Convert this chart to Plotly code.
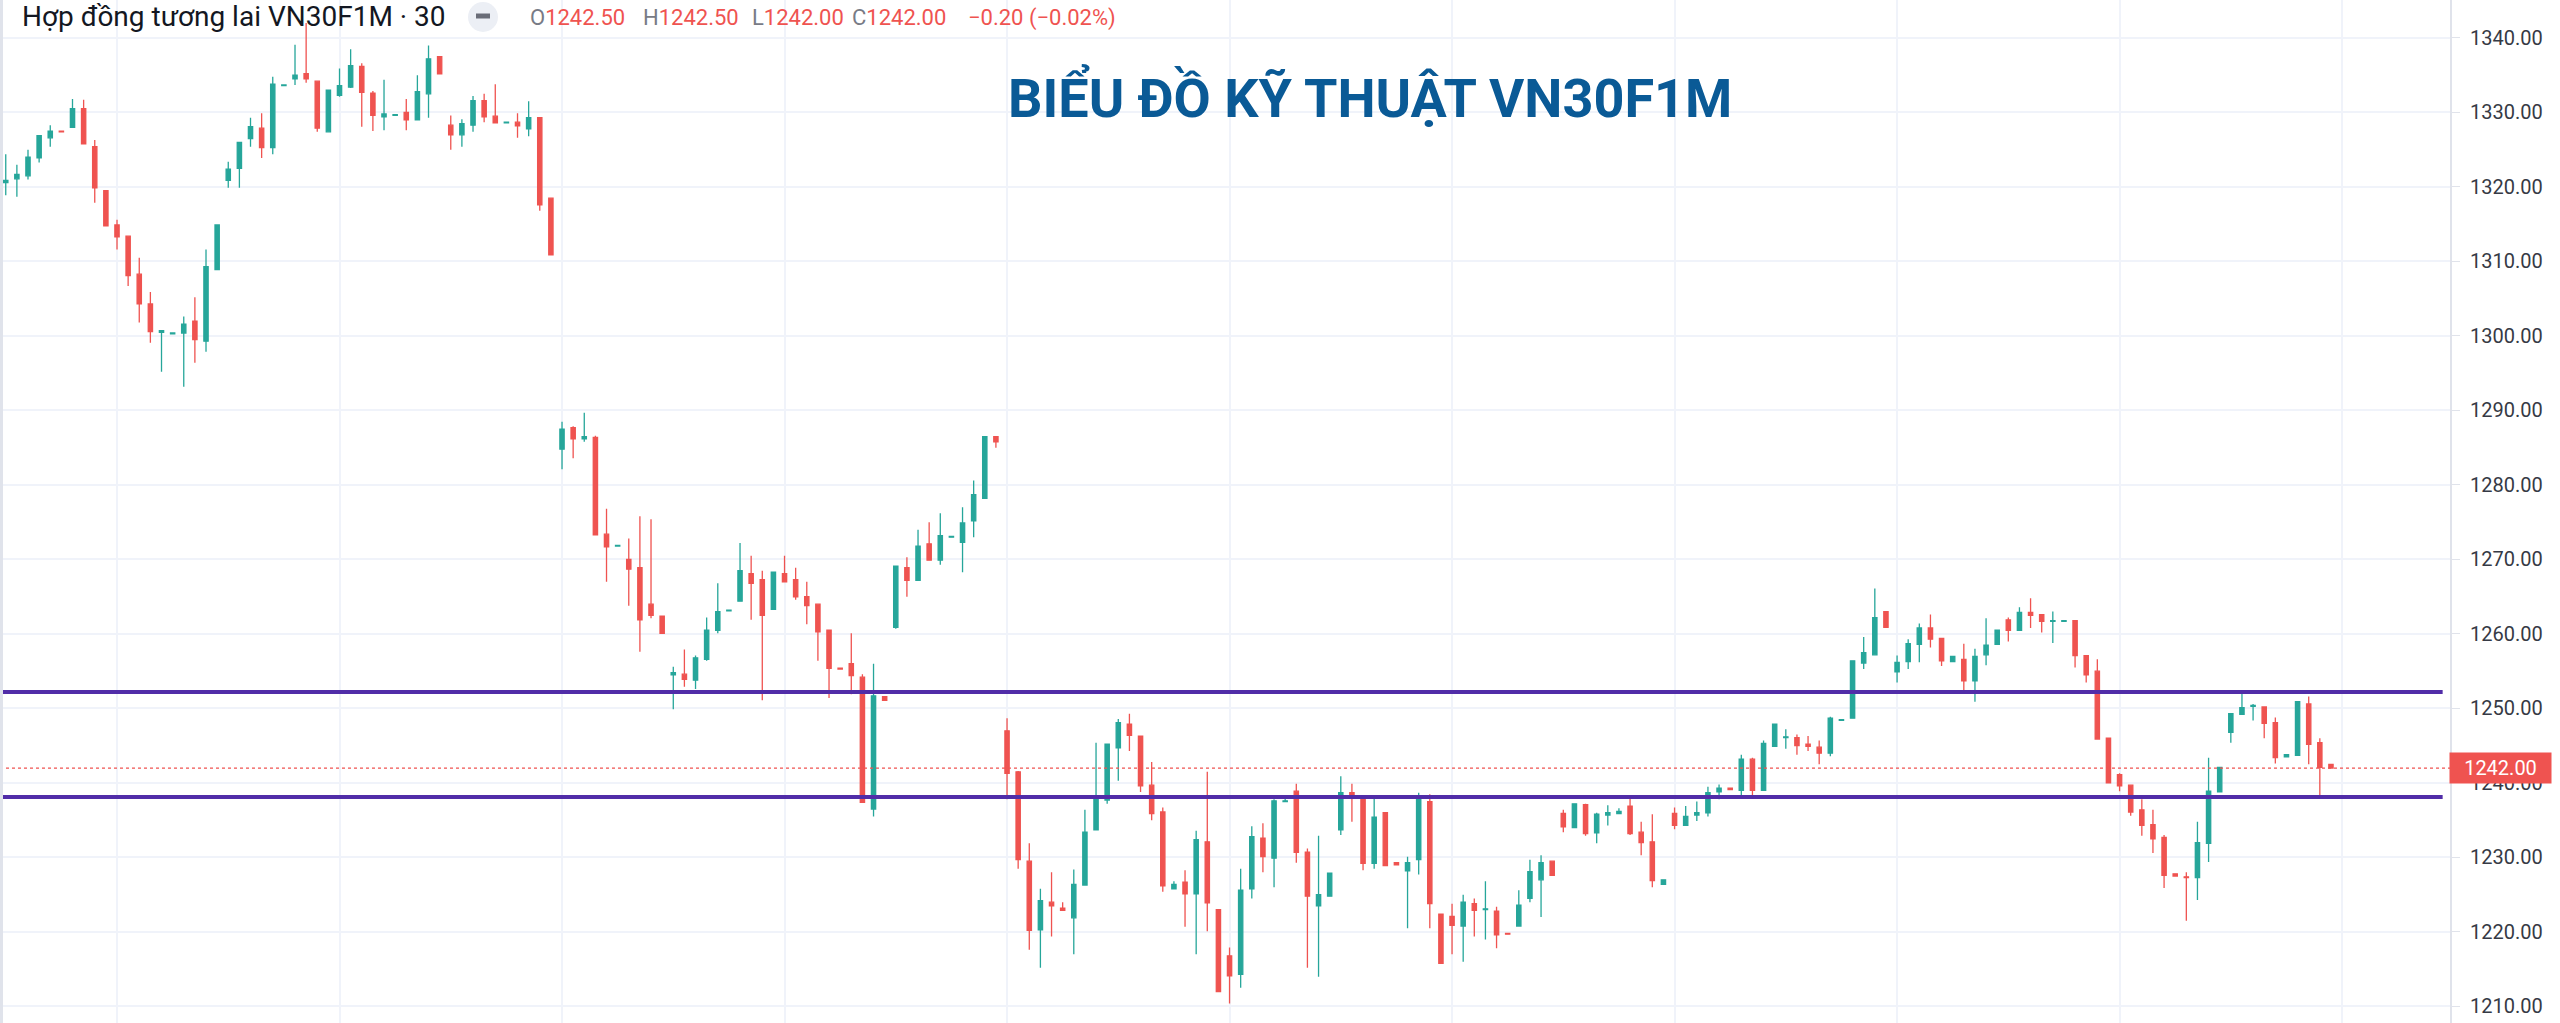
import plotly.graph_objects as go

# ---------------- data ----------------
bar_index = list(range(210))

open_ = [
    1320.6, 1321.1, 1321.5, 1323.9, 1326.6, 1327.5, 1328.0, 1330.5, 1325.4, 1319.5,
    1314.9, 1313.4, 1308.3, 1304.3, 1300.5, 1300.3, 1300.4, 1302.0, 1299.3, 1308.9,
    1320.9, 1322.5, 1326.5, 1327.9, 1325.3, 1333.6, 1334.5, 1335.2, 1334.2, 1327.4,
    1332.3, 1333.4, 1336.2, 1332.6, 1329.4, 1329.6, 1330.0, 1329.0, 1332.5, 1337.5,
    1328.3, 1327.0, 1328.3, 1331.6, 1329.5, 1328.6, 1328.7, 1327.8, 1329.3, 1318.5,
    1284.8, 1287.7, 1286.2, 1286.4, 1273.4, 1271.8, 1270.0, 1268.9, 1264.0, 1262.4,
    1254.5, 1254.6, 1253.8, 1256.6, 1260.5, 1263.1, 1264.4, 1268.1, 1267.3, 1263.3,
    1268.1, 1267.3, 1265.0, 1264.0, 1260.5, 1255.4, 1256.0, 1254.2, 1236.5, 1251.6,
    1260.9, 1268.9, 1267.2, 1272.1, 1269.9, 1273.0, 1272.3, 1275.2, 1278.2, 1286.5,
    1247.0, 1241.5, 1229.5, 1220.3, 1224.0, 1223.2, 1221.9, 1226.3, 1233.7, 1237.7,
    1244.7, 1247.9, 1246.3, 1239.7, 1236.1, 1225.8, 1226.7, 1225.1, 1232.1, 1223.0,
    1216.8, 1214.3, 1225.8, 1232.6, 1229.9, 1237.5, 1238.9, 1230.7, 1223.5, 1224.8,
    1233.7, 1238.7, 1238.0, 1229.2, 1236.0, 1229.3, 1228.2, 1229.7, 1237.5, 1222.4,
    1222.1, 1220.8, 1223.8, 1223.0, 1222.8, 1219.8, 1220.8, 1224.5, 1227.0, 1229.5,
    1235.9, 1234.0, 1237.1, 1233.3, 1235.7, 1235.9, 1236.9, 1233.4, 1232.1, 1226.4,
    1235.9, 1234.3, 1235.7, 1236.0, 1238.8, 1239.3, 1239.0, 1243.2, 1239.0, 1244.9,
    1246.1, 1246.1, 1245.2, 1244.8, 1244.0, 1248.4, 1248.7, 1256.1, 1257.2, 1263.0,
    1254.9, 1256.3, 1258.6, 1260.8, 1259.4, 1256.3, 1256.6, 1253.7, 1257.2, 1258.6,
    1261.9, 1260.5, 1262.9, 1262.6, 1261.7, 1261.7, 1261.8, 1257.1, 1255.0, 1246.0,
    1241.1, 1239.7, 1236.4, 1234.4, 1232.7, 1227.8, 1227.4, 1227.3, 1231.9, 1238.8,
    1246.8, 1249.2, 1250.3, 1250.2, 1248.1, 1243.5, 1243.7, 1250.6, 1245.4, 1242.5,
]
high = [
    1324.4, 1323.0, 1325.0, 1326.9, 1328.3, 1327.5, 1331.8, 1331.7, 1326.3, 1319.5,
    1315.6, 1313.4, 1310.5, 1305.9, 1300.8, 1300.5, 1302.6, 1305.2, 1311.6, 1314.9,
    1323.4, 1326.0, 1329.3, 1329.9, 1334.8, 1333.7, 1339.1, 1342.0, 1334.2, 1333.0,
    1335.9, 1338.5, 1336.6, 1332.9, 1334.4, 1329.7, 1331.8, 1335.0, 1339.0, 1337.5,
    1329.6, 1329.1, 1332.2, 1332.5, 1333.8, 1328.7, 1329.9, 1331.5, 1329.3, 1318.5,
    1288.5, 1287.9, 1289.7, 1286.6, 1276.8, 1271.9, 1272.8, 1275.8, 1275.4, 1262.4,
    1255.6, 1257.9, 1257.1, 1262.2, 1266.8, 1263.2, 1272.2, 1270.5, 1268.5, 1268.3,
    1270.5, 1268.9, 1267.0, 1264.0, 1260.5, 1255.4, 1260.1, 1254.6, 1256.0, 1251.6,
    1269.1, 1270.3, 1274.0, 1275.0, 1276.2, 1273.1, 1277.0, 1280.6, 1286.5, 1286.5,
    1248.7, 1241.6, 1231.9, 1225.8, 1228.0, 1224.0, 1228.4, 1236.4, 1245.4, 1245.2,
    1248.6, 1249.3, 1246.3, 1242.8, 1236.7, 1226.8, 1228.3, 1233.6, 1241.5, 1223.0,
    1217.9, 1228.5, 1234.2, 1234.6, 1237.8, 1237.9, 1239.9, 1231.2, 1232.9, 1227.9,
    1240.9, 1239.9, 1238.1, 1238.0, 1236.0, 1229.3, 1230.1, 1238.7, 1238.5, 1222.4,
    1223.8, 1225.0, 1224.5, 1226.8, 1223.4, 1219.8, 1225.6, 1229.7, 1230.3, 1229.5,
    1236.4, 1237.2, 1237.2, 1236.0, 1237.0, 1236.6, 1237.9, 1234.8, 1235.8, 1227.0,
    1236.7, 1236.9, 1237.5, 1239.5, 1239.8, 1239.3, 1243.8, 1243.4, 1245.7, 1247.9,
    1247.2, 1246.5, 1246.3, 1245.7, 1248.9, 1248.5, 1256.4, 1259.6, 1266.1, 1263.0,
    1257.1, 1259.3, 1261.4, 1262.6, 1259.5, 1257.0, 1258.7, 1258.0, 1262.1, 1260.5,
    1262.2, 1263.6, 1264.8, 1262.6, 1263.0, 1261.8, 1261.8, 1257.1, 1256.6, 1246.0,
    1241.3, 1239.7, 1237.8, 1236.4, 1233.0, 1227.8, 1228.0, 1234.8, 1243.4, 1242.1,
    1249.3, 1252.0, 1250.6, 1250.3, 1248.8, 1243.8, 1250.9, 1251.6, 1246.0, 1242.5,
]
low = [
    1318.9, 1318.7, 1321.0, 1323.3, 1325.4, 1327.3, 1328.0, 1325.8, 1317.9, 1314.8,
    1311.6, 1306.7, 1301.8, 1299.1, 1295.2, 1300.2, 1293.2, 1296.4, 1297.9, 1308.9,
    1319.9, 1319.9, 1325.4, 1323.9, 1324.4, 1333.6, 1333.7, 1334.0, 1327.4, 1327.4,
    1332.1, 1333.3, 1328.1, 1327.5, 1327.6, 1329.6, 1327.6, 1329.0, 1329.3, 1335.2,
    1325.0, 1325.4, 1327.4, 1328.7, 1328.6, 1328.6, 1326.6, 1326.8, 1316.8, 1310.9,
    1282.1, 1283.6, 1285.8, 1273.3, 1267.0, 1271.8, 1263.8, 1257.6, 1262.1, 1260.1,
    1249.9, 1252.9, 1252.6, 1256.4, 1260.1, 1263.1, 1264.4, 1261.9, 1251.1, 1263.3,
    1267.0, 1264.6, 1261.3, 1256.4, 1251.4, 1255.3, 1251.9, 1237.4, 1235.5, 1251.1,
    1260.7, 1265.0, 1267.2, 1269.9, 1269.3, 1273.0, 1268.3, 1273.0, 1278.2, 1285.0,
    1237.8, 1228.5, 1217.6, 1215.2, 1219.4, 1222.9, 1217.0, 1226.3, 1233.7, 1237.2,
    1240.3, 1244.3, 1238.8, 1235.0, 1225.4, 1225.8, 1220.7, 1217.0, 1220.1, 1212.0,
    1210.4, 1212.5, 1224.5, 1228.0, 1226.0, 1237.5, 1229.3, 1215.2, 1214.0, 1224.8,
    1233.0, 1234.8, 1228.3, 1228.5, 1228.9, 1229.0, 1220.5, 1227.7, 1220.5, 1215.8,
    1217.0, 1216.0, 1219.4, 1219.0, 1217.8, 1219.7, 1220.8, 1224.0, 1222.0, 1227.6,
    1233.4, 1234.0, 1232.9, 1231.9, 1234.3, 1235.9, 1233.0, 1230.3, 1226.0, 1226.4,
    1233.8, 1234.3, 1234.9, 1235.5, 1237.8, 1239.1, 1238.4, 1238.0, 1239.0, 1244.9,
    1244.6, 1243.8, 1244.3, 1242.5, 1243.6, 1248.4, 1248.7, 1255.3, 1257.2, 1260.9,
    1253.5, 1255.3, 1256.2, 1258.2, 1255.7, 1256.3, 1252.0, 1250.9, 1255.8, 1258.6,
    1259.0, 1260.5, 1260.8, 1260.2, 1258.8, 1261.7, 1255.5, 1253.5, 1245.9, 1240.0,
    1238.9, 1235.6, 1232.9, 1230.6, 1225.9, 1227.5, 1221.5, 1224.3, 1229.4, 1238.8,
    1245.4, 1249.2, 1248.4, 1246.0, 1242.6, 1243.5, 1243.7, 1242.5, 1238.0, 1242.0,
]
close = [
    1320.9, 1321.7, 1324.0, 1326.9, 1327.5, 1327.4, 1330.5, 1325.8, 1319.9, 1314.8,
    1313.3, 1308.1, 1304.3, 1300.6, 1300.7, 1300.4, 1301.6, 1299.5, 1309.3, 1314.9,
    1322.4, 1326.0, 1328.1, 1325.3, 1333.8, 1333.7, 1335.0, 1334.5, 1327.9, 1333.0,
    1333.6, 1336.3, 1332.7, 1329.6, 1329.8, 1329.7, 1329.0, 1332.8, 1337.2, 1335.2,
    1327.0, 1328.5, 1331.6, 1329.4, 1328.6, 1328.7, 1328.2, 1329.3, 1317.6, 1310.9,
    1287.5, 1286.2, 1286.5, 1273.3, 1271.7, 1271.9, 1268.7, 1261.9, 1262.5, 1260.1,
    1254.8, 1253.9, 1256.8, 1260.5, 1263.0, 1263.2, 1268.5, 1266.8, 1262.5, 1268.3,
    1267.0, 1265.0, 1263.8, 1260.3, 1255.4, 1255.3, 1254.4, 1237.4, 1251.7, 1251.1,
    1269.1, 1267.2, 1271.8, 1269.9, 1273.2, 1273.1, 1274.9, 1278.7, 1286.5, 1285.8,
    1241.3, 1229.7, 1220.2, 1224.2, 1223.5, 1222.9, 1226.4, 1233.4, 1238.3, 1245.2,
    1248.1, 1246.4, 1239.6, 1235.9, 1226.2, 1226.4, 1225.1, 1232.4, 1223.9, 1212.0,
    1214.1, 1225.6, 1232.8, 1230.1, 1237.6, 1237.6, 1230.7, 1224.8, 1225.0, 1227.9,
    1238.7, 1238.0, 1229.2, 1235.4, 1228.9, 1229.0, 1229.3, 1238.0, 1223.8, 1215.8,
    1220.9, 1224.0, 1222.9, 1223.1, 1219.6, 1219.7, 1223.6, 1228.1, 1229.3, 1227.6,
    1234.1, 1237.2, 1233.2, 1235.8, 1236.0, 1236.2, 1233.2, 1232.0, 1226.9, 1227.0,
    1234.3, 1235.5, 1236.0, 1238.7, 1239.3, 1239.1, 1243.2, 1239.0, 1245.3, 1247.9,
    1246.2, 1245.0, 1244.9, 1244.0, 1248.7, 1248.5, 1256.4, 1257.5, 1262.2, 1260.9,
    1256.2, 1258.7, 1260.8, 1259.3, 1256.4, 1257.0, 1253.7, 1257.0, 1258.5, 1260.5,
    1260.5, 1262.9, 1262.5, 1261.7, 1261.8, 1261.8, 1257.1, 1254.5, 1245.9, 1240.0,
    1239.6, 1236.1, 1234.3, 1232.5, 1227.6, 1227.5, 1227.3, 1232.0, 1238.9, 1242.1,
    1249.3, 1250.1, 1250.4, 1248.0, 1243.4, 1243.8, 1250.9, 1245.2, 1242.1, 1242.0,
]

price_ticks = [1210, 1220, 1230, 1240, 1250, 1260, 1270, 1280, 1290, 1300, 1310, 1320, 1330, 1340]
price_tick_labels = [f"{v:.2f}" for v in price_ticks]

resistance_level = 1252.2
support_level = 1238.1
last_price = 1242.0

header_title = "Hợp đồng tương lai VN30F1M · 30"
ohlc_labels = ["O", "H", "L", "C"]
ohlc_values = ["1242.50", "1242.50", "1242.00", "1242.00"]
change_text = "−0.20 (−0.02%)"
chart_title = "BIỂU ĐỒ KỸ THUẬT VN30F1M"

# ---------------- styling ----------------
W, H = 2560, 1023
PLOT_W = 2450
UP = "#26a69a"
DOWN = "#ef5350"
GRID = "#f0f3fa"
PURPLE = "#512da8"
FONT = "Roboto, sans-serif"


def px(xp):
    return xp / PLOT_W


def py(yp):
    return 1 - yp / H


fig = go.Figure()
fig.add_trace(go.Candlestick(
    x=bar_index, open=open_, high=high, low=low, close=close,
    increasing=dict(line=dict(color=UP, width=1.3), fillcolor=UP),
    decreasing=dict(line=dict(color=DOWN, width=1.3), fillcolor=DOWN),
    whiskerwidth=0, showlegend=False, hoverinfo="skip",
))

shapes = [
    dict(type="line", xref="paper", yref="y", x0=0, x1=0.997, y0=resistance_level, y1=resistance_level,
         line=dict(color=PURPLE, width=4), layer="above"),
    dict(type="line", xref="paper", yref="y", x0=0, x1=0.997, y0=support_level, y1=support_level,
         line=dict(color=PURPLE, width=4), layer="above"),
    dict(type="line", xref="paper", yref="y", x0=0, x1=1, y0=last_price, y1=last_price,
         line=dict(color=DOWN, width=1.3, dash="dot"), layer="above"),
    dict(type="line", xref="paper", yref="paper", x0=px(1.5), x1=px(1.5), y0=0, y1=1,
         line=dict(color="#e0e3eb", width=3), layer="above"),
    # legend icon (circle with dash)
    dict(type="circle", xref="paper", yref="paper", x0=px(468), x1=px(498), y0=py(32), y1=py(2),
         fillcolor="#eceff5", line=dict(width=0), layer="above"),
    dict(type="line", xref="paper", yref="paper", x0=px(476), x1=px(490), y0=py(16), y1=py(16),
         line=dict(color="#6a6d78", width=5), layer="above"),
]

annotations = [
    dict(xref="paper", yref="paper", x=px(20), y=py(17), xanchor="left", yanchor="middle",
         text=header_title, showarrow=False, font=dict(family=FONT, size=28, color="#131722")),
    dict(xref="paper", yref="paper", x=px(1370), y=py(97), xanchor="center", yanchor="middle",
         text=f"<b>{chart_title}</b>", showarrow=False,
         font=dict(family=FONT, size=54, color="#0a5a96")),
    dict(xref="paper", yref="y", x=px(2500.5), y=last_price, xanchor="center", yanchor="middle",
         text="1242.00", showarrow=False, bgcolor=DOWN, width=97, height=26, borderpad=2,
         font=dict(family=FONT, size=20, color="white")),
]
ohlc_x = [528, 641, 750, 850]
for lab, val, xx in zip(ohlc_labels, ohlc_values, ohlc_x):
    annotations.append(dict(
        xref="paper", yref="paper", x=px(xx), y=py(18), xanchor="left", yanchor="middle",
        text=f"<span style='color:#787b86'>{lab}</span><span style='color:{DOWN}'>{val}</span>",
        showarrow=False, font=dict(family=FONT, size=22)))
annotations.append(dict(
    xref="paper", yref="paper", x=px(966), y=py(18), xanchor="left", yanchor="middle",
    text=change_text, showarrow=False, font=dict(family=FONT, size=22, color=DOWN)))

fig.update_layout(
    width=W, height=H,
    margin=dict(l=0, r=W - PLOT_W, t=0, b=0, pad=0),
    plot_bgcolor="white", paper_bgcolor="white",
    boxgap=0.45,
    shapes=shapes, annotations=annotations,
    showlegend=False,
    xaxis=dict(range=[-0.517, 219.7], showgrid=True, gridcolor=GRID, gridwidth=1.5,
               tick0=10, dtick=20, showticklabels=False, ticks="", zeroline=False,
               rangeslider=dict(visible=False), showline=False),
    yaxis=dict(side="right", range=[1207.78, 1345.1], tickvals=price_ticks, ticktext=price_tick_labels,
               showgrid=True, gridcolor=GRID, gridwidth=1.5, zeroline=False,
               ticks="outside", ticklen=8, tickcolor="#e0e3eb", ticklabelstandoff=6,
               showline=True, linecolor="#e0e3eb", linewidth=2,
               tickfont=dict(family=FONT, size=20, color="#363a45")),
)

fig.write_html("out.html", config={"displayModeBar": False},
               post_script="document.body.style.margin='0';document.body.style.overflow='hidden';")
